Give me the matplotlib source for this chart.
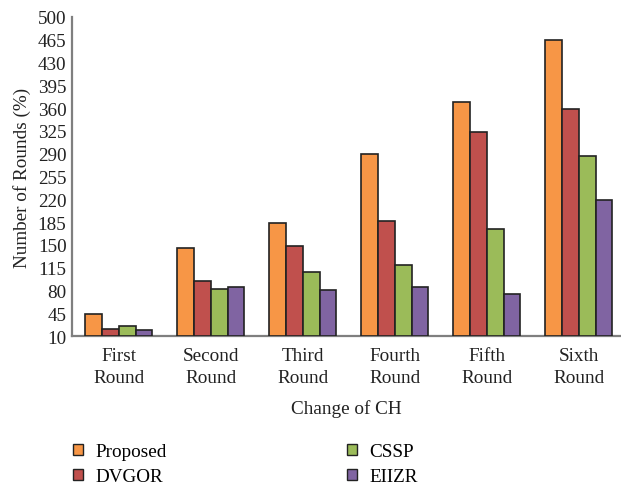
import matplotlib

matplotlib.use("Agg")

import matplotlib.pyplot as plt  # noqa: E402
import numpy as np  # noqa: E402
from matplotlib.patches import Patch  # noqa: E402

plt.rcParams["font.family"] = ["Liberation Serif", "DejaVu Serif"]

rounds = ["First\nRound", "Second\nRound", "Third\nRound",
          "Fourth\nRound", "Fifth\nRound", "Sixth\nRound"]
proposed = [44, 146, 184, 289, 369, 464]
dvgor = [21, 94, 149, 186, 324, 359]
cssp = [26, 82, 109, 119, 174, 286]
eiizr = [19, 86, 80, 86, 74, 219]
yticks = list(range(10, 501, 35))

series = [
    ("Proposed", proposed, "#F79646"),
    ("DVGOR", dvgor, "#C0504D"),
    ("CSSP", cssp, "#9BBB59"),
    ("EIIZR", eiizr, "#8064A2"),
]

FS = 13.8

fig = plt.figure(figsize=(6.21, 4.85), dpi=100)
ax = fig.add_axes([0.116, 0.305, 0.884, 0.658])

x = np.arange(len(rounds))
w = 0.182
for i, (name, vals, col) in enumerate(series):
    ax.bar(x + (i - 1.5) * w, np.array(vals) - 10, w, bottom=10,
           color=col, edgecolor="#222222", linewidth=1.2, label=name,
           zorder=3)

ax.set_xlim(-0.51, 5.457)
ax.set_ylim(10, 500)
ax.set_yticks(yticks)
ax.set_xticks(x)
ax.set_xticklabels(rounds, linespacing=1.35)
ax.tick_params(length=0, labelsize=FS, colors="#222222", pad=4)
ax.tick_params(axis="x", pad=8)

for side in ("top", "right"):
    ax.spines[side].set_visible(False)
for side in ("left", "bottom"):
    ax.spines[side].set_color("#7f7f7f")
    ax.spines[side].set_linewidth(1.6)

ax.set_ylabel("Number of Rounds (%)", fontsize=FS, color="#222222",
              labelpad=5)
ax.set_xlabel("Change of CH", fontsize=FS, color="#222222", labelpad=10)

handles = [Patch(facecolor=c, edgecolor="#222222", linewidth=1.0, label=n)
           for n, _, c in series]
fig.legend(handles=handles, ncol=2, loc="upper left",
           bbox_to_anchor=(0.106, 0.1), frameon=False,
           fontsize=FS, handlelength=0.5, handleheight=0.5,
           handletextpad=0.65, columnspacing=9.4, labelspacing=0.42,
           borderaxespad=0)

fig.savefig("out.png", dpi=100)
plt.close(fig)
